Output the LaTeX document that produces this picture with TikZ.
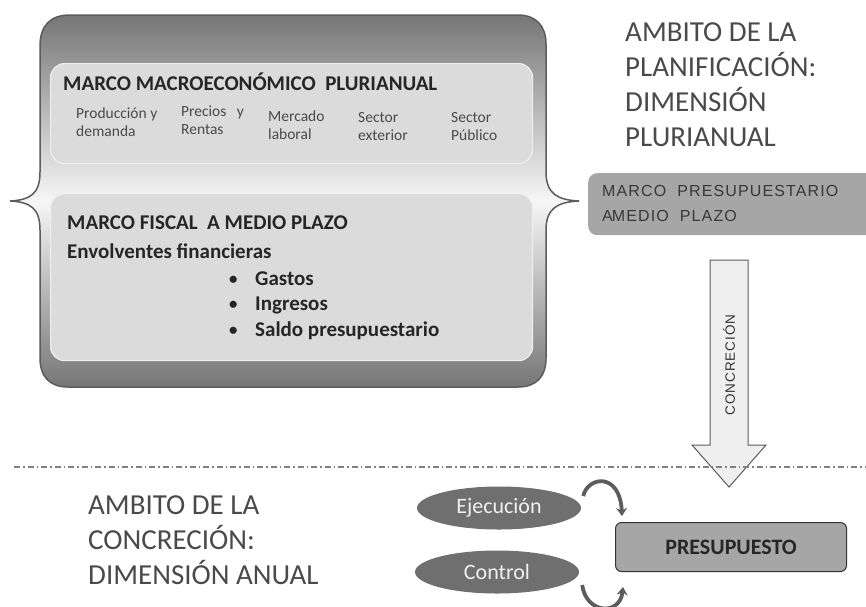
\documentclass[tikz,border=0pt]{standalone}
\usepackage{fontspec}
\setmainfont{Carlito}
\newfontfamily\arialfont[LetterSpace=7]{Liberation Sans}
\usetikzlibrary{arrows.meta,positioning,shapes.geometric,calc}
\definecolor{rim}{HTML}{5C5C5C}
\definecolor{shade}{HTML}{767676}
\definecolor{panelfill}{HTML}{DBDBDB}
\definecolor{boxgray}{HTML}{A6A6A6}
\definecolor{ovalgray}{HTML}{6F6F6F}
\definecolor{ink}{HTML}{4A4A4A}
\definecolor{pale}{HTML}{EFEFEF}
\newcommand{\dotitem}{\makebox[26pt][l]{\raisebox{1pt}{\scalebox{0.8}{\textbullet}}}}

\begin{document}
\begin{tikzpicture}[x=1pt,y=-1pt,
  panel/.style={draw=pale,line width=1.2pt,fill=panelfill,rounded corners=14pt,anchor=north west,minimum width=482pt,inner sep=0pt},
  ttl/.style={font=\fontsize{21}{25}\selectfont\bfseries,text=black!85,anchor=base west,inner sep=0pt},
  sub/.style={font=\fontsize{15.5}{18}\selectfont,text=ink,align=left,anchor=north west,inner sep=0pt},
  item/.style={font=\fontsize{21}{25}\selectfont\bfseries,text=black!85,anchor=base west,inner sep=0pt},
  big/.style={font=\fontsize{29}{35}\selectfont,text=ink,align=left,anchor=north west,inner sep=0pt},
  oval/.style={ellipse,fill=ovalgray,text=white!88!gray,font=\fontsize{22}{24}\selectfont,minimum width=164pt,minimum height=43pt,inner sep=0pt},
  gbox/.style={fill=boxgray,rounded corners=9pt,anchor=north west,inner sep=0pt},
  curv/.style={-{Stealth[length=8pt,width=11pt]},line width=3.8pt,draw=rim}]
  \useasboundingbox (0,0) rectangle (866,606);

  % brace-shaped frame
  \draw[draw=rim,line width=1.5pt,top color=shade,bottom color=shade,middle color=white!93!gray]
    (70,15) -- (518,15) .. controls (536,15) and (546,26) .. (546,44) -- (546,172)
    .. controls (546,194) and (558,200) .. (579,201) .. controls (558,202) and (546,208) .. (546,230)
    -- (546,358) .. controls (546,377) and (536,387) .. (518,387) -- (68,387)
    .. controls (50,387) and (40,377) .. (40,358) -- (40,230)
    .. controls (40,208) and (30,202) .. (10,201) .. controls (30,200) and (40,194) .. (40,172)
    -- (40,46) .. controls (40,26) and (50,15) .. (70,15) -- cycle;

  % upper panel
  \node[panel,minimum height=100pt] (macro) at (50,63) {};
  \node[ttl] (macrot) at (63,90) {MARCO MACROECONÓMICO\ \ PLURIANUAL};
  \node[sub] (prod) at (76,108) {Producción y\\demanda};
  \node[sub] (prec) at (181,106) {Precios\ \ \ y\\Rentas};
  \node[sub] (merc) at (268,111) {Mercado\\laboral};
  \node[sub] (sext) at (358,112) {Sector\\exterior};
  \node[sub] (spub) at (451,112) {Sector\\Público};

  % lower panel
  \node[panel,minimum height=167pt] (fiscal) at (50,193) {};
  \node[ttl] (fiscalt) at (67,229) {MARCO FISCAL\ \ A MEDIO PLAZO};
  \node[ttl] (envol) at (67,258) {Envolventes financieras};
  \node[item] (gast) at (229,285) {\dotitem Gastos};
  \node[item] (ingr) at (229,310) {\dotitem Ingresos};
  \node[item] (sald) at (229,336) {\dotitem Saldo presupuestario};

  % right side
  \node[big] (plan) at (625,22) {AMBITO DE LA\\PLANIFICACIÓN:\\DIMENSIÓN\\PLURIANUAL};
  \node[gbox,minimum width=300pt,minimum height=62pt] (mpmp) at (588,173) {};
  \node[font=\arialfont\fontsize{16}{25}\selectfont,text=black!78,align=left,anchor=north west,inner sep=0pt]
    (mpmpt) at (602,185) {MARCO\ \ PRESUPUESTARIO\\A\kern-1pt MEDIO\ \ PLAZO};

  % block arrow
  \draw[draw=rim,line width=1pt,fill=pale]
    (710,260) -- (748,260) -- (748,445) -- (766,445) -- (729,487) -- (692,445) -- (710,445) -- cycle;
  \node[rotate=90,font=\arialfont\fontsize{13.5}{15}\selectfont,text=black!80] (concr) at (729,365) {CONCRECIÓN};

  % separator
  \coordinate (sepl) at (14,467);
  \coordinate (sepr) at (866,467);
  \draw[gray,line width=1.2pt,dash pattern=on 6pt off 3pt on 1.5pt off 3pt] (sepl) -- (sepr);

  % bottom
  \node[big] (anual) at (88,495) {AMBITO DE LA\\CONCRECIÓN:\\DIMENSIÓN ANUAL};
  \node[oval] (ejec) at (499,508) {Ejecución};
  \node[oval] (ctrl) at (497,572) {Control};
  \node[draw=black!80,line width=1pt,fill=boxgray,rounded corners=6pt,minimum width=231pt,minimum height=49pt,
    font=\fontsize{22}{24}\selectfont\bfseries,text=black!85] (presu) at (731,547) {PRESUPUESTO};

  \coordinate (e1) at ($(ejec.east)+(2,-12)$);
  \coordinate (e2) at ($(presu.north west)+(7,-6)$);
  \coordinate (c1) at ($(ctrl.east)+(3,13)$);
  \coordinate (c2) at ($(presu.south west)+(8,15)$);
  \draw[curv] (e1) .. controls (588,476) and (620,472) .. (e2);
  \draw[curv] (c1) .. controls (586,614) and (620,616) .. (c2);
\end{tikzpicture}
\end{document}
